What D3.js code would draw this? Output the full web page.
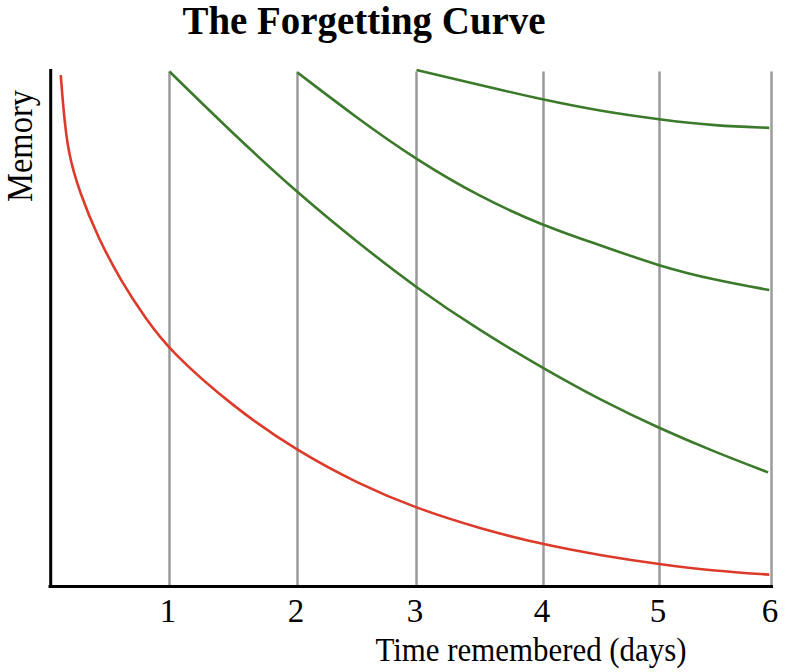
<!DOCTYPE html>
<html>
<head>
<meta charset="utf-8">
<script src="https://cdn.jsdelivr.net/npm/d3@7"></script>
<style>
  html, body { margin: 0; padding: 0; background: #fff; }
  text { font-family: "Liberation Serif", "Times New Roman", Times, serif; fill: #000; }
</style>
</head>
<body>
<div id="chart"></div>
<script>
// Day marks on the time axis
const tickDays = [1, 2, 3, 4, 5, 6];

// First learning: memory decays with no review
const forgetDays   = [0.09, 0.11, 0.15, 0.25, 0.4, 0.6, 0.8, 1, 1.5, 2, 2.5, 3, 3.5, 4, 4.5, 5, 5.5, 5.98];
const forgetMemory = [0.99, 0.93, 0.839, 0.762, 0.676, 0.589, 0.519, 0.457, 0.347, 0.262, 0.2, 0.151, 0.112, 0.081, 0.06, 0.043, 0.03, 0.023];

// After each review the curve starts again and decays slower
const review1Days   = [1, 1.5, 2, 2.5, 3, 3.5, 4, 4.5, 5, 5.5, 5.97];
const review1Memory = [0.997, 0.876, 0.762, 0.667, 0.578, 0.495, 0.422, 0.36, 0.306, 0.26, 0.221];

const review2Days   = [2, 2.5, 3, 3.5, 4, 4.5, 5, 5.5, 5.98];
const review2Memory = [0.995, 0.907, 0.826, 0.754, 0.698, 0.66, 0.62, 0.593, 0.574];

const review3Days   = [3, 3.5, 4, 4.5, 5, 5.5, 5.98];
const review3Memory = [1.0, 0.971, 0.942, 0.92, 0.904, 0.892, 0.888];

const width = 800;
const height = 672;

const svg = d3.select("#chart")
    .append("svg")
    .attr("width", width)
    .attr("height", height)
    .attr("viewBox", [0, 0, width, height]);

// the day marks in the picture are not evenly spaced
const x = d3.scaleLinear()
    .domain([0, 1, 2, 3, 4, 5, 6])
    .range([50, 169.5, 297.5, 416.5, 543.5, 659.5, 771.5]);

const y = d3.scaleLinear()
    .domain([0, 1])
    .range([586.5, 70]);

const zip = (ds, ms) => ds.map((d, i) => ({ day: d, memory: ms[i] }));

const line = d3.line()
    .x(d => x(d.day))
    .y(d => y(d.memory))
    .curve(d3.curveBasis);

// gray day lines
svg.append("g")
    .selectAll("line")
    .data(tickDays)
    .join("line")
    .attr("x1", d => x(d))
    .attr("x2", d => x(d))
    .attr("y1", y(0.997))
    .attr("y2", y(0))
    .attr("stroke", "#9b9b9b")
    .attr("stroke-width", 2.5);

// curves
const series = [
    { pts: zip(forgetDays, forgetMemory), color: "#dd3b2a" },
    { pts: zip(review1Days, review1Memory), color: "#3c7a2b" },
    { pts: zip(review2Days, review2Memory), color: "#3c7a2b" },
    { pts: zip(review3Days, review3Memory), color: "#3c7a2b" }
];

svg.append("g")
    .selectAll("path")
    .data(series)
    .join("path")
    .attr("d", d => line(d.pts))
    .attr("fill", "none")
    .attr("stroke", d => d.color)
    .attr("stroke-width", 2.6);

// x axis with day labels
const xAxis = svg.append("g")
    .attr("transform", `translate(0,${y(0)})`)
    .call(d3.axisBottom(x).tickValues(tickDays).tickSize(0).tickPadding(12).tickFormat(d3.format("d")));
xAxis.select(".domain")
    .attr("d", `M${x(0) - 1.5},0H${x(6) + 1.5}`)
    .attr("stroke", "#000")
    .attr("stroke-width", 3);
xAxis.selectAll(".tick text")
    .attr("font-family", "Liberation Serif, Times New Roman, serif")
    .attr("font-size", 33)
    .attr("dx", -2)
    .attr("fill", "#000");

// y axis (line only)
const yAxis = svg.append("g")
    .attr("transform", `translate(${x(0) + 0.7},0)`)
    .call(d3.axisLeft(y).tickValues([]).tickSize(0));
yAxis.select(".domain")
    .attr("d", `M0,${y(0) + 1.5}V${y(1) - 1}`)
    .attr("stroke", "#000")
    .attr("stroke-width", 3);

// labels (the reference face is a narrow Times, so widths are pinned)
svg.append("text")
    .attr("x", 364)
    .attr("y", 34)
    .attr("text-anchor", "middle")
    .attr("font-size", 39)
    .attr("font-weight", "bold")
    .attr("textLength", 363)
    .attr("lengthAdjust", "spacingAndGlyphs")
    .text("The Forgetting Curve");

svg.append("text")
    .attr("x", 531)
    .attr("y", 661)
    .attr("text-anchor", "middle")
    .attr("font-size", 34)
    .attr("textLength", 311)
    .attr("lengthAdjust", "spacingAndGlyphs")
    .text("Time remembered (days)");

svg.append("text")
    .attr("transform", "translate(32,146) rotate(-90)")
    .attr("text-anchor", "middle")
    .attr("font-size", 35)
    .attr("textLength", 112)
    .attr("lengthAdjust", "spacingAndGlyphs")
    .text("Memory");
</script>
</body>
</html>
